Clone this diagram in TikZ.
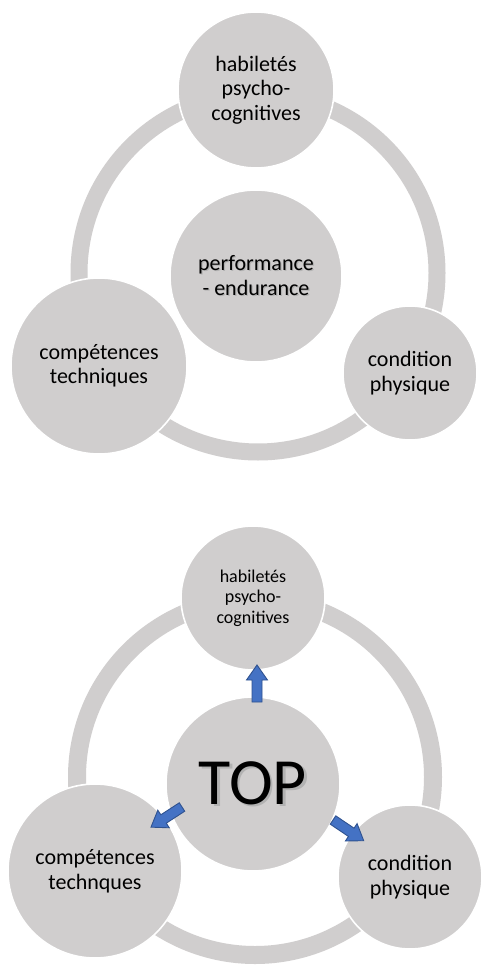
\documentclass[tikz,border=0pt]{standalone}
\usepackage{fontspec}
\setmainfont{Carlito}

\definecolor{discgray}{HTML}{D0CECE}
\definecolor{arrowblue}{HTML}{4472C4}
\definecolor{arrowedge}{HTML}{2F528F}

% text with a soft drop shadow set in the same box
\newcommand\dropshade[2]{\leavevmode\rlap{\kern#1\raisebox{-#1}{\textcolor{black!30}{#2}}}#2}

\tikzset{
  ring/.style={draw=discgray},
  disc/.style={circle, fill=discgray, draw=white, line width=1.6pt,
               inner sep=0pt, align=center, text=black},
  labelbig/.style={font=\fontsize{22}{24.5}\selectfont},
  labelsmall/.style={font=\fontsize{18}{20.5}\selectfont},
  arrowbody/.style={fill=arrowblue, draw=arrowedge, line width=0.9pt, line join=miter},
  blockarrow/.pic={
    \path[arrowbody] (0,-5) -- (22,-5) -- (22,-10.5) -- (37,0)
      -- (22,10.5) -- (22,5) -- (0,5) -- cycle;
  }
}

\begin{document}
\begin{tikzpicture}[x=1pt, y=1pt]
  \useasboundingbox (0,0) rectangle (480,-965);
  \fill[white] (0,0) rectangle (480,-965);

  % ---------- upper cycle ----------
  \draw[ring, line width=17pt] (258,-273) circle[radius=179];

  \node[disc, labelbig, minimum size=156pt] (hab1) at (256,-90)
    {habiletés\\psycho-\\cognitives};
  \node[disc, labelbig, minimum size=172pt] (perf) at (256,-276)
    {\dropshade{1.2pt}{performance}\\\dropshade{1.2pt}{- endurance}};
  \node[disc, labelbig, minimum size=176pt] (comp1) at (99,-366)
    {compétences\\techniques};
  \node[disc, labelbig, minimum size=134pt] (cond1) at (410,-373)
    {condition\\physique};

  % ---------- lower cycle ----------
  \draw[ring, line width=18pt] (255,-777) circle[radius=178];

  \node[disc, labelsmall, minimum size=144pt] (hab2) at (253,-598)
    {habiletés\\psycho-\\cognitives};
  \node[disc, font=\fontsize{66}{72}\selectfont, minimum size=174pt] (top) at (253,-784)
    {\dropshade{2.2pt}{TOP}};
  \node[disc, labelbig, minimum size=174pt] (comp2) at (95,-871)
    {compétences\\technques};
  \node[disc, labelbig, minimum size=144pt] (cond2) at (410,-877)
    {condition\\physique};

  % arrows leaving the central disc
  \coordinate (upTail) at (257,-702);
  \coordinate (leftTail) at (182,-807);
  \coordinate (rightTail) at (333,-820);
  \pic[rotate=90] at (upTail) {blockarrow};
  \pic[rotate=213] at (leftTail) {blockarrow};
  \pic[rotate=-34] at (rightTail) {blockarrow};
\end{tikzpicture}
\end{document}
